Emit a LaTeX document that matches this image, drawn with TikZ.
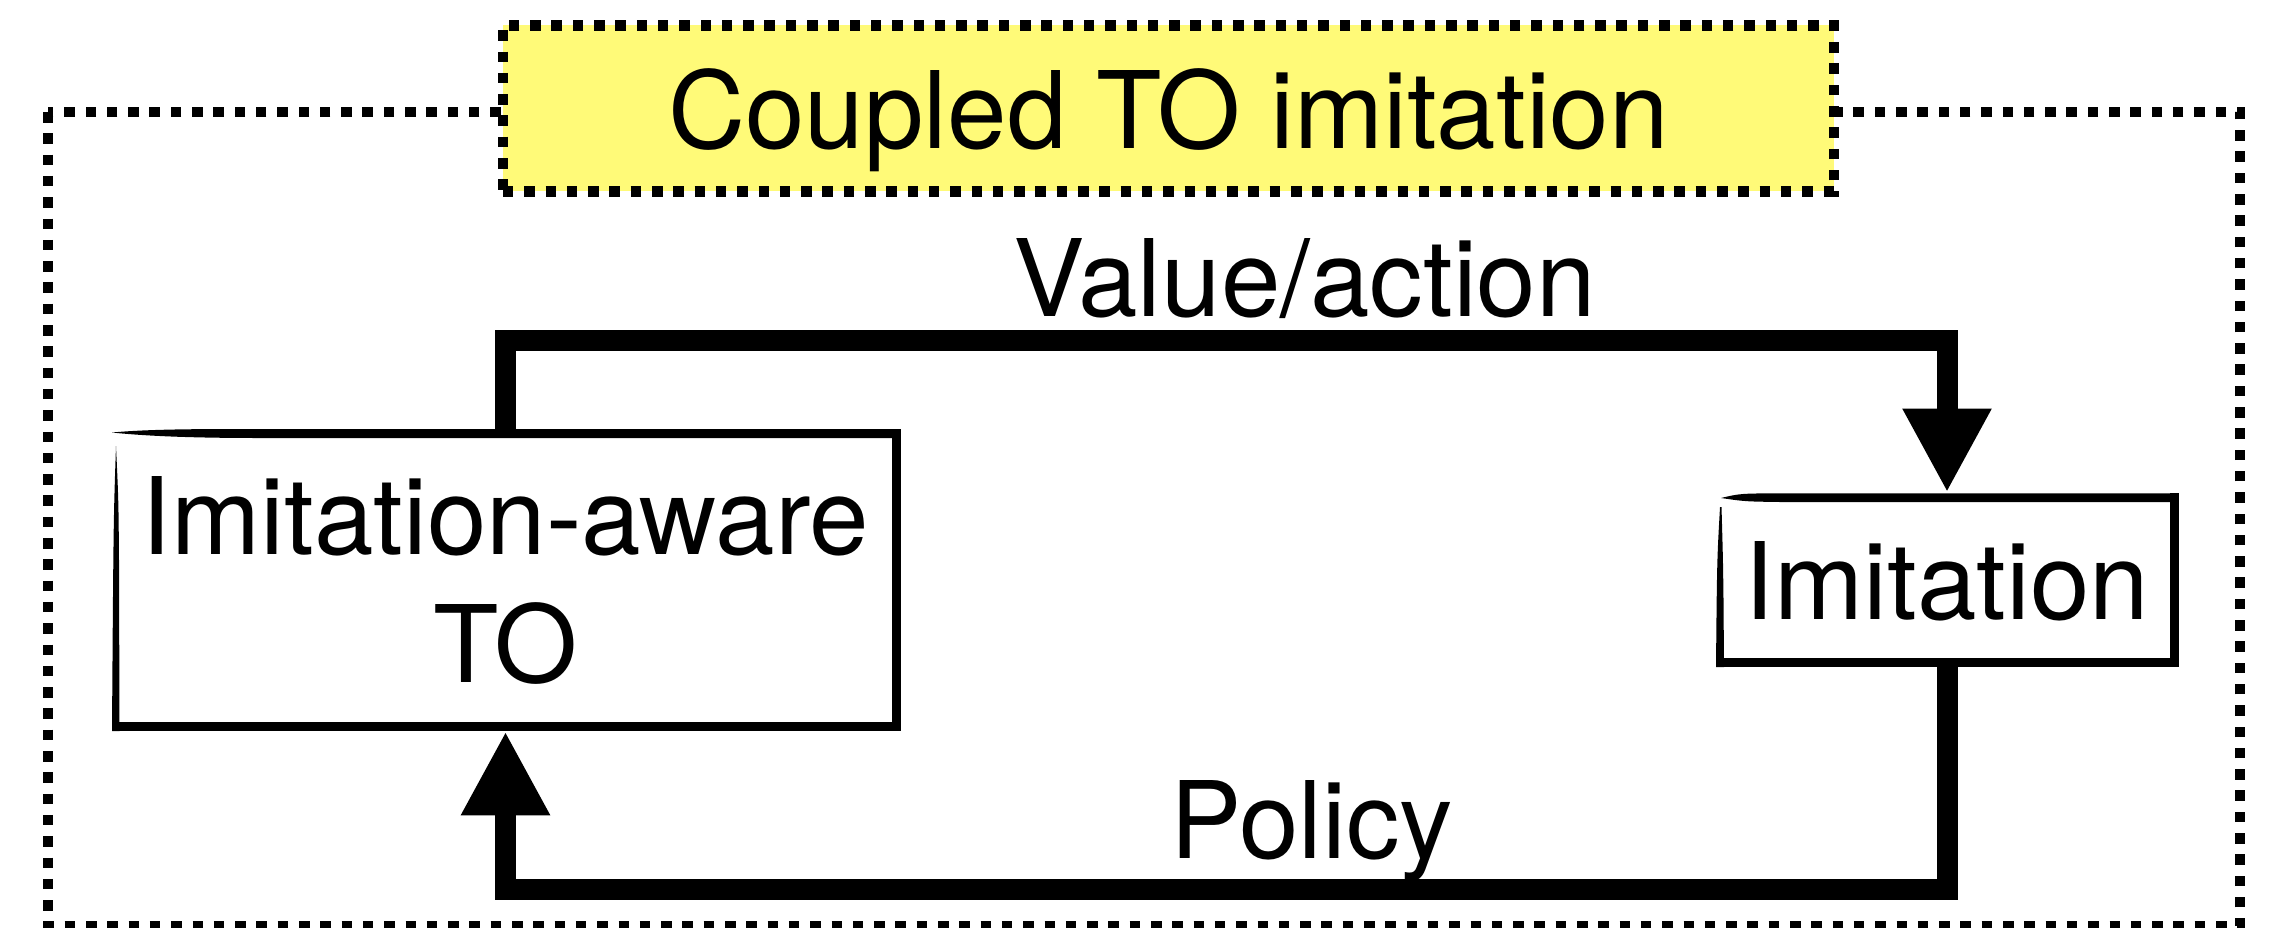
\documentclass[tikz,border=0pt]{standalone}
\usepackage{fontspec}
\setmainfont{TeX Gyre Heros}
\usetikzlibrary{arrows.meta}
\definecolor{titlefill}{RGB}{255,250,120}
\newcommand\diagfont{\fontsize{107}{128}\selectfont}
\begin{document}
\begin{tikzpicture}[x=1pt,y=-1pt,
  dotframe/.style={line width=10.5pt,dash pattern=on 10.5pt off 10.8pt},
  boxnode/.style={draw=none,outer sep=4.5pt,font=\diagfont,align=center},
  edge/.style={line width=9pt},
  conn/.style={line width=21pt,-{Triangle[width=83pt,length=84pt]}},
  lbl/.style={font=\diagfont,anchor=base,inner sep=0pt}]
\useasboundingbox (0,0) rectangle (2274,927);

% outer dotted frame and its title box
\draw[dotframe] (48,112) rectangle (2240,926);
\node[dotframe,draw,fill=titlefill,minimum width=1331pt,minimum height=166pt,
      font=\diagfont,text depth=0pt,inner sep=0pt] (title) at (1168.4,108.3) {Coupled TO imitation};

% the two process boxes
\node[boxnode,minimum width=781pt,minimum height=293pt] (lbox) at (505.5,580.25) {Imitation-aware\\TO};
\node[boxnode,minimum width=454pt,minimum height=165pt,text height=82pt] (rbox) at (1947,579.5) {Imitation};

% hand-drawn borders: Imitation-aware TO
\draw[edge] (896,429) -- (896,726.5) -- (111.5,726.5);
\fill (112,432.5) .. controls (150,429) and (200,429) .. (260,429) -- (900.5,429) -- (900.5,438)
      -- (260,438) .. controls (200,438) and (150,436.5) .. (112,432.5) -- cycle;
\fill (116,446) .. controls (113.5,520) .. (112,731) -- (119.5,731) -- (119,560)
      .. controls (118.5,500) .. (116,446) -- cycle;

% hand-drawn borders: Imitation
\draw[edge] (2174,493) -- (2174,662.5) -- (1715.5,662.5);
\fill (1721,498) .. controls (1740,493.5) .. (1780,493.3) -- (2178.5,493.3) -- (2178.5,502)
      -- (1780,502) .. controls (1745,501.5) .. (1721,498) -- cycle;
\fill (1720,507) .. controls (1717,560) .. (1716,667) -- (1724,667) -- (1723.5,600)
      .. controls (1723,560) .. (1721.5,507) -- cycle;

% feedback loop
\coordinate (upper) at (0,340);
\coordinate (lower) at (0,889.5);
\draw[conn] (lbox.north) -- (lbox.north |- upper) -- (rbox.north |- upper) -- (rbox.north);
\draw[conn] (rbox.south) -- (rbox.south |- lower) -- (lbox.south |- lower) -- (lbox.south);

\node[lbl] (valact) at (1304.5,316.7) {Value/action};
\node[lbl] (policy) at (1312,858.3) {Policy};
\end{tikzpicture}
\end{document}
